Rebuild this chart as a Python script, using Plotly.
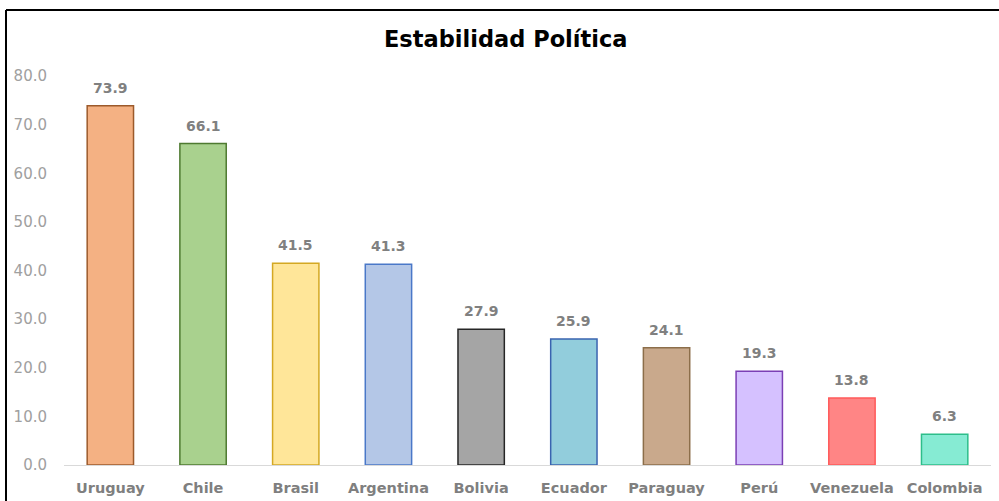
import plotly.graph_objects as go

categories = ["Uruguay", "Chile", "Brasil", "Argentina", "Bolivia", "Ecuador",
              "Paraguay", "Perú", "Venezuela", "Colombia"]
values = [73.9, 66.1, 41.5, 41.3, 27.9, 25.9, 24.1, 19.3, 13.8, 6.3]
fill_colors = ["#F4B183", "#A9D18E", "#FFE699", "#B4C7E7", "#A5A5A5",
               "#92CDDC", "#C9A98C", "#D5C1FF", "#FF8585", "#86EBD3"]
line_colors = ["#9C5A2B", "#4E7A30", "#D4A823", "#4A78C8", "#262626",
               "#3A64B0", "#8C6E4A", "#7B3FB5", "#FF5A5A", "#2DBE8A"]
y_ticks = [0, 10, 20, 30, 40, 50, 60, 70, 80]
title_text = "Estabilidad Política"

W, H = 999, 501
L, R, T, B = 64, 8, 76, 36
pw, ph = W - L - R, H - T - B

fig = go.Figure()
fig.add_trace(go.Bar(
    x=categories, y=values,
    marker=dict(color=fill_colors, line=dict(color=line_colors, width=1.5)),
    hoverinfo="x+y",
))

for c, v in zip(categories, values):
    fig.add_annotation(x=c, y=v, text=f"{v:.1f}", showarrow=False,
                       yanchor="bottom", yshift=8,
                       font=dict(family="DejaVu Sans", size=14, color="#808080", weight="bold"))

fig.add_annotation(xref="paper", yref="paper", x=(506 - L) / pw,
                   y=(H - B - 39) / ph, text=title_text, showarrow=False,
                   xanchor="center", yanchor="middle",
                   font=dict(family="DejaVu Sans", size=22.5, color="#000000", weight="bold"))

# outer border (top and left edges visible)
fig.add_shape(type="line", xref="paper", yref="paper",
              x0=(6 - L) / pw, x1=(W + 5 - L) / pw,
              y0=(H - B - 10) / ph, y1=(H - B - 10) / ph,
              line=dict(color="#000000", width=2))
fig.add_shape(type="line", xref="paper", yref="paper",
              x0=(6 - L) / pw, x1=(6 - L) / pw,
              y0=(H - B - 10) / ph, y1=(H - B - H - 5) / ph,
              line=dict(color="#000000", width=2))

fig.update_layout(
    width=W, height=H,
    margin=dict(l=L, r=R, t=T, b=B, pad=0, autoexpand=False),
    paper_bgcolor="white", plot_bgcolor="white",
    bargap=0.5, showlegend=False,
    xaxis=dict(showgrid=False, showline=True, linecolor="#D9D9D9", linewidth=1,
               ticks="", ticklabelstandoff=10, automargin=False,
               tickfont=dict(family="DejaVu Sans", size=14.5, color="#7F7F7F", weight="bold")),
    yaxis=dict(range=[0, 80], tickvals=y_ticks, ticktext=[f"{t:.1f}" for t in y_ticks],
               showgrid=False, zeroline=False, showline=False, ticks="",
               ticklabelstandoff=16, automargin=False,
               tickfont=dict(family="DejaVu Sans", size=15, color="#A0A0A0")),
)

fig.write_html("out.html")
